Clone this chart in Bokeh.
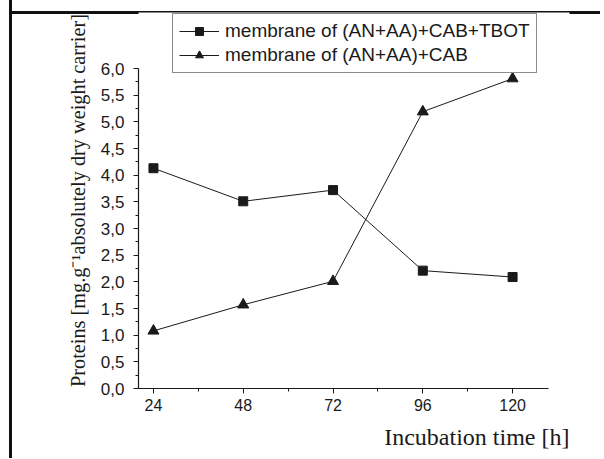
from bokeh.plotting import figure
from bokeh.models import Range1d, FixedTicker, CustomJSTickFormatter, Legend, LegendItem, Title
from bokeh.embed import file_html
from bokeh.resources import INLINE

# ---- data ----
hours = [24, 48, 72, 96, 120]
tbot = [4.13, 3.51, 3.72, 2.21, 2.09]
cab = [1.08, 1.57, 2.01, 5.19, 5.81]
series_names = ["membrane of (AN+AA)+CAB+TBOT", "membrane of (AN+AA)+CAB"]
x_ticks = [24, 48, 72, 96, 120]
x_minor = [36, 60, 84, 108]
y_ticks = [0.0, 0.5, 1.0, 1.5, 2.0, 2.5, 3.0, 3.5, 4.0, 4.5, 5.0, 5.5, 6.0]
y_minor = [0.25, 0.75, 1.25, 1.75, 2.25, 2.75, 3.25, 3.75, 4.25, 4.75, 5.25, 5.75]
x_title = "Incubation time [h]"
y_title = "Proteins [mg.g\u207b\u00b9absolutely dry weight carrier]"

# axis extents (what the axis lines cover)
AX_X = (20.0, 129.6)
AX_Y = (0.0, 6.0)

# ---- layout (picture pixel geometry; canvas lands at the picture origin) ----
W, H = 600, 458
AXL, AXR = 138, 548          # x of x-axis start / end
AXT, AXB = 68, 388           # y of y-axis top / bottom
FR, FT = 569, 12             # frame right / top
BX, BW = 9, 3                # page-frame line position / width

sx = (AXR - AXL) / (AX_X[1] - AX_X[0])
sy = (AXB - AXT) / (AX_Y[1] - AX_Y[0])
x_end = AX_X[1] + (FR - AXR) / sx
y_end = AX_Y[1] + (AXT - FT) / sy

p = figure(width=W, height=H, output_backend="svg", toolbar_location=None,
           x_range=Range1d(AX_X[0], x_end), y_range=Range1d(AX_Y[0], y_end),
           min_border_left=AXL, min_border_right=W - FR,
           min_border_top=FT, min_border_bottom=H - AXB)
p.styles = {
    "background-image": "linear-gradient(#111111, #111111), linear-gradient(#111111, #111111)",
    "background-size": f"100% {BW}px, {BW}px 100%",
    "background-position": f"left {BX}px bottom {H - BX - BW - 2}px, left {BX}px bottom 0px",
    "background-repeat": "no-repeat",
}
p.outline_line_color = None
p.xgrid.visible = False
p.ygrid.visible = False
p.background_fill_color = "white"
p.border_fill_alpha = 0

INK = "#1a1a1a"
for ax in (p.xaxis[0], p.yaxis[0]):
    ax.axis_line_color = INK
    ax.axis_line_width = 1.2
    ax.major_tick_line_color = INK
    ax.minor_tick_line_color = INK
    ax.major_tick_in = 0
    ax.major_tick_out = 5
    ax.minor_tick_in = 0
    ax.minor_tick_out = 3
    ax.major_label_text_font = "Liberation Sans"
    ax.major_label_text_color = INK

p.xaxis.major_label_text_font_size = "16px"
p.yaxis.major_label_text_font_size = "17px"
p.xaxis.bounds = AX_X
p.yaxis.bounds = AX_Y
p.xaxis.ticker = FixedTicker(ticks=x_ticks, minor_ticks=x_minor)
p.yaxis.ticker = FixedTicker(ticks=y_ticks, minor_ticks=y_minor)
p.yaxis.formatter = CustomJSTickFormatter(code="return tick.toFixed(1).replace('.', ',');")
p.xaxis.major_label_standoff = 5
p.yaxis.major_label_standoff = 9

p.yaxis.axis_label = y_title
p.yaxis.axis_label_text_font = "Liberation Serif"
p.yaxis.axis_label_text_font_size = "20.3px"
p.yaxis.axis_label_text_font_style = "normal"
p.yaxis.axis_label_text_color = INK
p.yaxis.axis_label_standoff = 9

r1l = p.line(hours, tbot, line_color=INK, line_width=1)
r1m = p.scatter(hours, tbot, marker="square", size=9, fill_color=INK, line_color=INK)
r2l = p.line(hours, cab, line_color=INK, line_width=1)
r2m = p.scatter(hours, cab, marker="triangle", size=11, fill_color=INK, line_color=INK)

legend = Legend(items=[LegendItem(label=series_names[0], renderers=[r1l, r1m]),
                       LegendItem(label=series_names[1], renderers=[r2l, r2m])],
                location=(172 - AXL, AXB - 73))
legend.label_text_font = "Liberation Sans"
legend.label_text_font_size = "19px"
legend.label_text_color = INK
legend.border_line_color = INK
legend.border_line_width = 1
legend.background_fill_alpha = 1
legend.glyph_width = 40
legend.glyph_height = 20
legend.label_height = 20
legend.label_standoff = 6
legend.spacing = 2
legend.padding = 6
legend.margin = 0
p.add_layout(legend, "center")

xt = Title(text=x_title, align="right", text_font="Liberation Serif", text_font_size="24px",
           text_font_style="normal", text_color=INK, text_line_height=1.0, standoff=16)
p.add_layout(xt, "below")

open("out.html", "w").write(file_html(p, INLINE))
